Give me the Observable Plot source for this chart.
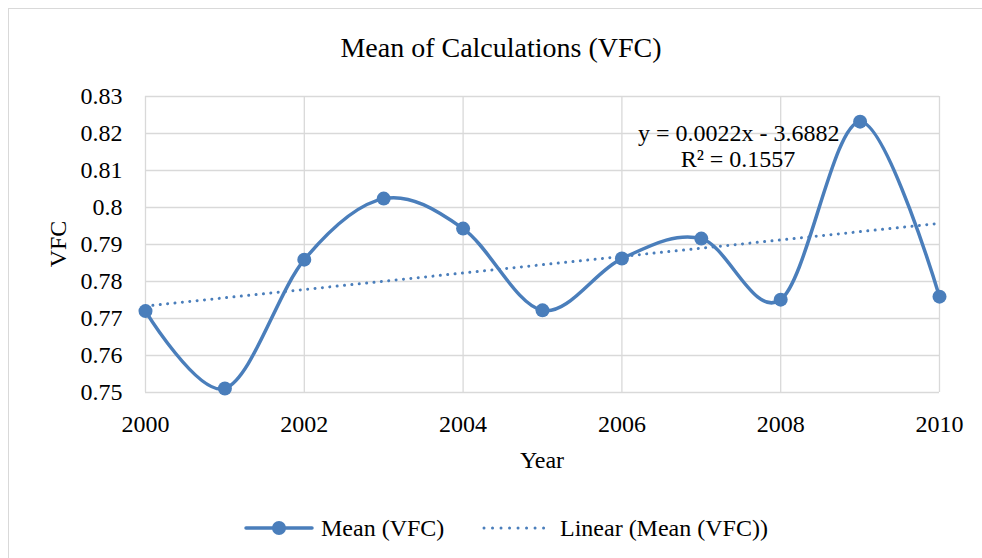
<!DOCTYPE html>
<html>
<head>
<meta charset="utf-8">
<script src="https://cdn.jsdelivr.net/npm/d3@7"></script>
<script src="https://cdn.jsdelivr.net/npm/@observablehq/plot@0.6"></script>
<style>
  html, body { margin: 0; padding: 0; background: #fff; }
  body { width: 982px; height: 558px; position: relative; overflow: hidden; font-family: "Liberation Serif", "Times New Roman", serif; color: #000; }
  #frame { position: absolute; left: 8px; top: 8px; width: 1000px; height: 600px; border: 1.5px solid #d9d9d9; box-sizing: border-box; }
  #title { position: absolute; left: 8px; width: 986px; top: 31px; text-align: center; font-size: 28px; line-height: 34px; }
  #chart { position: absolute; left: 0; top: 0; }
  #chart svg, #chart svg text { font-family: "Liberation Serif", "Times New Roman", serif !important; }
  #xlabel { position: absolute; left: 145px; width: 794px; top: 445px; text-align: center; font-size: 24px; line-height: 30px; }
  #ylabel { position: absolute; left: 58px; top: 244px; transform: translate(-50%, -50%) rotate(-90deg); font-size: 24px; line-height: 30px; white-space: nowrap; }
  #eq { position: absolute; left: 638px; width: 200px; top: 120px; text-align: center; font-size: 24px; line-height: 26px; white-space: nowrap; }
  #legend { position: absolute; left: 0; top: 500px; }
</style>
</head>
<body>
<div id="frame"></div>
<div id="title">Mean of Calculations (VFC)</div>
<div id="chart"></div>
<div id="xlabel">Year</div>
<div id="ylabel">VFC</div>
<div id="eq">y = 0.0022x - 3.6882<br>R² = 0.1557</div>
<svg id="legend" width="982" height="58" font-family="'Liberation Serif', 'Times New Roman', serif" font-size="24">
  <line x1="246" x2="312" y1="28" y2="28" stroke="#4a7ebb" stroke-width="3.5" stroke-linecap="round"/>
  <circle cx="279" cy="28" r="7" fill="#4a7ebb"/>
  <text x="321" y="36">Mean (VFC)</text>
  <line x1="484" x2="552" y1="28" y2="28" stroke="#4a7ebb" stroke-width="3" stroke-linecap="round" stroke-dasharray="0.01 8.5"/>
  <text x="560" y="36">Linear (Mean (VFC))</text>
</svg>
<script>
const years = [2000, 2001, 2002, 2003, 2004, 2005, 2006, 2007, 2008, 2009, 2010];
const meanVFC = [0.7720, 0.7511, 0.7859, 0.8024, 0.7943, 0.7722, 0.7862, 0.7916, 0.7751, 0.8232, 0.7759];
const xTicks = [2000, 2002, 2004, 2006, 2008, 2010];
const yTicks = [0.75, 0.76, 0.77, 0.78, 0.79, 0.80, 0.81, 0.82, 0.83];

const data = years.map((year, i) => ({year, value: meanVFC[i]}));
const color = "#4a7ebb";

const chart = Plot.plot({
  width: 982,
  height: 480,
  marginLeft: 145,
  marginRight: 43,
  marginTop: 96,
  marginBottom: 88,
  style: {fontFamily: "'Liberation Serif', 'Times New Roman', serif", fontSize: "24px", color: "#000", background: "transparent", overflow: "visible"},
  x: {domain: [2000, 2010], ticks: xTicks, tickFormat: d => String(d), tickSize: 0, tickPadding: 22, label: null},
  y: {domain: [0.75, 0.83], ticks: yTicks, tickFormat: d => String(+d.toFixed(2)), tickSize: 0, tickPadding: 23, label: null},
  marks: [
    Plot.ruleY(yTicks, {y: d => d, stroke: "#d9d9d9", strokeWidth: 1.3}),
    Plot.ruleX(xTicks, {x: d => d, stroke: "#d9d9d9", strokeWidth: 1.3}),
    Plot.linearRegressionY(data, {x: "year", y: "value", ci: 0, stroke: color, strokeWidth: 3, strokeLinecap: "round", strokeDasharray: "0.01 7.4"}),
    Plot.line(data, {x: "year", y: "value", curve: "cardinal", stroke: color, strokeWidth: 3.5}),
    Plot.dot(data, {x: "year", y: "value", r: 7, fill: color, stroke: "none"})
  ]
});
document.getElementById("chart").appendChild(chart);
</script>
</body>
</html>
